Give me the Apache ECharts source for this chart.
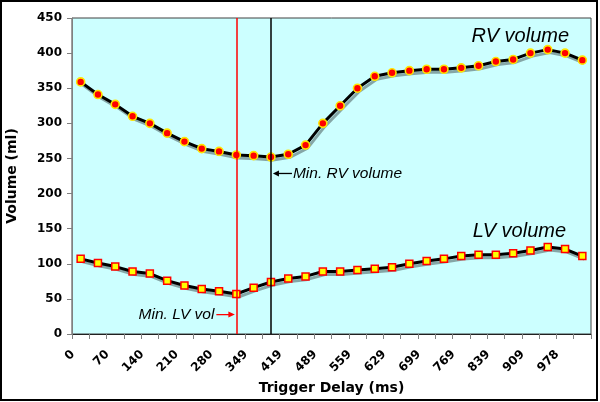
<!DOCTYPE html>
<html>
<head>
<meta charset="utf-8">
<script src="https://cdn.jsdelivr.net/npm/echarts@6/dist/echarts.min.js"></script>
<style>
html,body{margin:0;padding:0;background:#fff;}
#chart{width:600px;height:402px;}
</style>
</head>
<body>
<div id="chart"></div>
<script>
const delays = ['0','35','70','105','140','175','210','245','280','314','349','384','419','454','489','524','559','594','629','664','699','734','769','804','839','874','909','943','978','1013'];
const rvVolume = [359,341,327,310,300,286,274,264,260,255,254,252,256,269,300,325,350,367,372,375,377,377,379,382,388,391,400,405,400,390];
const lvVolume = [107,101,96,89,86,76,69,64,61,57,66,74,79,82,89,89,91,93,95,100,104,107,111,113,113,115,119,124,121,111];
const yTicks = { min: 0, max: 450, interval: 50 };
const minLvDelay = '314';
const minRvDelay = '384';

const chart = echarts.init(document.getElementById('chart'), null, { renderer: 'canvas' });
const lineShadow = { shadowColor: 'rgba(0,0,0,0.35)', shadowBlur: 0, shadowOffsetX: 2, shadowOffsetY: 3 };

chart.setOption({
  animation: false,
  backgroundColor: '#ffffff',
  grid: { left: 72, top: 18, right: 9, bottom: 68, containLabel: false, outerBoundsMode: 'none', show: true, backgroundColor: '#CCFFFF', borderColor: '#404040', borderWidth: 1 },
  xAxis: {
    type: 'category',
    data: delays,
    boundaryGap: true,
    name: 'Trigger Delay (ms)',
    nameLocation: 'middle',
    nameGap: 47,
    nameTextStyle: { fontFamily: 'DejaVu Sans', fontWeight: 'bold', fontSize: 14, color: '#000' },
    axisLine: { lineStyle: { color: '#202020', width: 1 } },
    axisTick: { show: true, interval: 0, length: 5, lineStyle: { color: '#808080' } },
    axisLabel: { interval: 1, rotate: 45, margin: 19, verticalAlign: 'bottom', padding: [0, 5, 0, 0], fontFamily: 'DejaVu Sans', fontWeight: 'bold', fontSize: 12, color: '#000' },
    splitLine: { show: false }
  },
  yAxis: {
    type: 'value',
    min: yTicks.min, max: yTicks.max, interval: yTicks.interval,
    name: 'Volume (ml)',
    nameLocation: 'middle',
    nameGap: 53,
    nameTextStyle: { fontFamily: 'DejaVu Sans', fontWeight: 'bold', fontSize: 14, color: '#000' },
    axisLine: { show: true, lineStyle: { color: '#808080', width: 1 } },
    axisTick: { show: true, length: 5, lineStyle: { color: '#808080' } },
    axisLabel: { margin: 10, fontFamily: 'DejaVu Sans', fontWeight: 'bold', fontSize: 12, color: '#000' },
    splitLine: { show: false }
  },
  series: [
    {
      name: 'RV volume', type: 'line', data: rvVolume, smooth: false,
      symbol: 'circle', symbolSize: 8,
      lineStyle: Object.assign({ color: '#000', width: 3 }, lineShadow),
      itemStyle: { color: '#FF0000', borderColor: '#FFE600', borderWidth: 1.6 },
      z: 3,
      markLine: {
        silent: true, symbol: ['none', 'none'], label: { show: false }, animation: false,
        data: [
          { xAxis: minLvDelay, lineStyle: { color: '#FF0000', width: 1.5, type: 'solid' } },
          { xAxis: minRvDelay, lineStyle: { color: '#000000', width: 1.5, type: 'solid' } }
        ]
      }
    },
    {
      name: 'LV volume', type: 'line', data: lvVolume, smooth: false,
      symbol: 'rect', symbolSize: 7,
      lineStyle: Object.assign({ color: '#000', width: 3 }, lineShadow),
      itemStyle: { color: '#FFFF00', borderColor: '#FF0000', borderWidth: 1.5 },
      z: 3
    }
  ]
});

function px(cat, val) { return chart.convertToPixel({ xAxisIndex: 0, yAxisIndex: 0 }, [cat, val]); }
const italic = { fontFamily: 'Liberation Sans, Arial', fontStyle: 'italic' };
const rvLabelPos = px(28, 424);
const lvLabelPos = px(28, 146);
const minRv = px(minRvDelay, 228.6);
const minLv = px(minLvDelay, 27.6);

chart.setOption({
  graphic: [
    { type: 'rect', shape: { x: 1, y: 1, width: 596, height: 399 }, style: { fill: 'none', stroke: '#000', lineWidth: 2 }, z: 100, silent: true },
    { type: 'text', x: rvLabelPos[0] + 4, y: rvLabelPos[1], style: Object.assign({ text: 'RV volume', fontSize: 20, fill: '#000', align: 'right', verticalAlign: 'middle' }, italic), z: 50 },
    { type: 'text', x: lvLabelPos[0] + 1, y: lvLabelPos[1], style: Object.assign({ text: 'LV volume', fontSize: 20, fill: '#000', align: 'right', verticalAlign: 'middle' }, italic), z: 50 },
    { type: 'text', x: minRv[0] + 22, y: minRv[1], style: Object.assign({ text: 'Min. RV volume', fontSize: 15.5, fill: '#000', align: 'left', verticalAlign: 'middle' }, italic), z: 50 },
    { type: 'line', shape: { x1: minRv[0] + 6, y1: minRv[1], x2: minRv[0] + 21, y2: minRv[1] }, style: { stroke: '#000', lineWidth: 1.3 }, z: 50 },
    { type: 'polygon', shape: { points: [[minRv[0] + 2, minRv[1]], [minRv[0] + 8, minRv[1] - 3], [minRv[0] + 8, minRv[1] + 3]] }, style: { fill: '#000' }, z: 50 },
    { type: 'text', x: minLv[0] - 22, y: minLv[1], style: Object.assign({ text: 'Min. LV vol', fontSize: 15.5, fill: '#000', align: 'right', verticalAlign: 'middle' }, italic), z: 50 },
    { type: 'line', shape: { x1: minLv[0] - 20, y1: minLv[1], x2: minLv[0] - 6, y2: minLv[1] }, style: { stroke: '#FF0000', lineWidth: 1.3 }, z: 50 },
    { type: 'polygon', shape: { points: [[minLv[0] - 1.5, minLv[1]], [minLv[0] - 8, minLv[1] - 3], [minLv[0] - 8, minLv[1] + 3]] }, style: { fill: '#FF0000' }, z: 50 }
  ]
});
</script>
</body>
</html>
